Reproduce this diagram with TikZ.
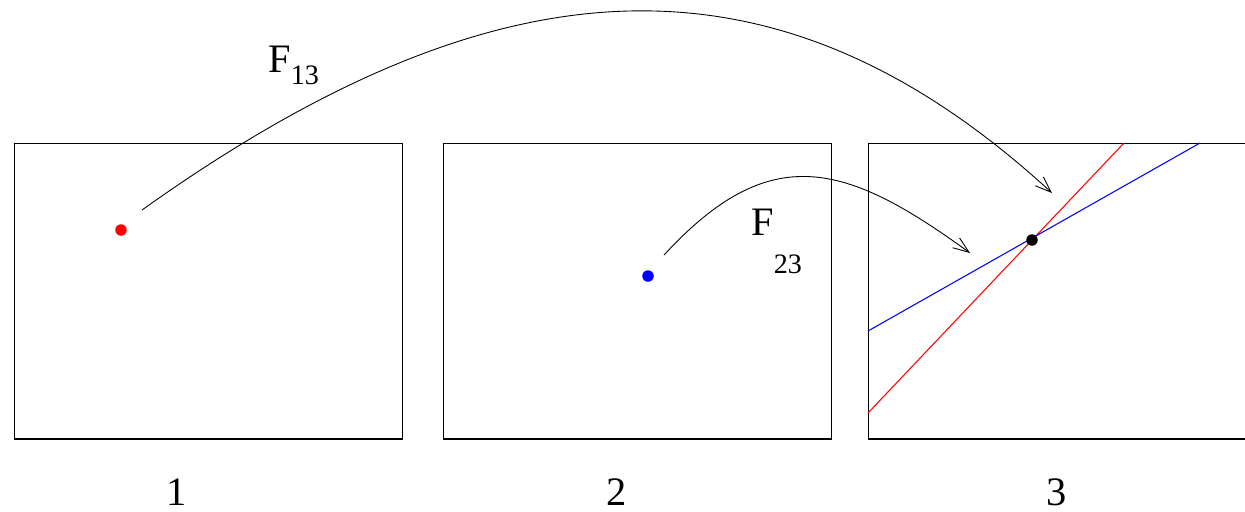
\documentclass[tikz,border=0pt]{standalone}
\usepackage{fontspec}
\setmainfont{Liberation Serif}
\usetikzlibrary{arrows.meta}

\begin{document}
\begin{tikzpicture}[
  x=0.02cm, y=-0.02cm,
  view/.style={draw=black, line width=0.6pt, minimum width=7.78cm, minimum height=5.92cm, inner sep=0pt},
  pt/.style={circle, fill=#1, inner sep=0pt, minimum size=0.23cm},
  map/.style={-{Straight Barb[length=3.2mm, width=2.4mm]}, line width=0.5pt, draw=black},
  epi/.style={line width=0.6pt, draw=#1},
  lab/.style={font=\fontsize{23}{26}\selectfont, inner sep=0pt},
  sub/.style={font=\fontsize{16}{18}\selectfont}
]
\useasboundingbox (0,0) rectangle (1245,511);
\clip (0,0) rectangle (1245,511);

% the three views
\node[view] (view1) at (208.5,291) {};
\node[view] (view2) at (637.5,291) {};
\node[view] (view3) at (1063,291) {};

\node[lab] (num1) at (177,492) {1};
\node[lab] (num2) at (617,492) {2};
\node[lab] (num3) at (1057,492) {3};

% points and epipolar lines
\node[pt=red] (p1) at (121,230) {};
\node[pt=blue] (p2) at (648,276) {};

\coordinate (r0) at (868,413);
\coordinate (r1) at (1124,143);
\coordinate (b0) at (868,331);
\coordinate (b1) at (1200,143);
\draw[epi=red] (r0) -- (r1);
\draw[epi=blue] (b0) -- (b1);
\node[pt=black] (p3) at (1032,240) {};

% transfer maps
\coordinate (s13) at (142,210);
\coordinate (e13) at (1052,193);
\coordinate (s23) at (664,255);
\coordinate (e23) at (970,253);
\draw[map] (s13) .. controls (490,-38) and (770,-66) .. (e13);
\draw[map] (s23) .. controls (770,140) and (845,162) .. (e23);

\node[lab, anchor=base west] (f13) at (268,72) {F\raisebox{-0.3em}{\fontsize{16}{18}\selectfont 13}};
\node[lab, anchor=base west] (f23) at (751,235) {F\raisebox{-0.95em}{\fontsize{16}{18}\selectfont 23}};
\end{tikzpicture}
\end{document}
